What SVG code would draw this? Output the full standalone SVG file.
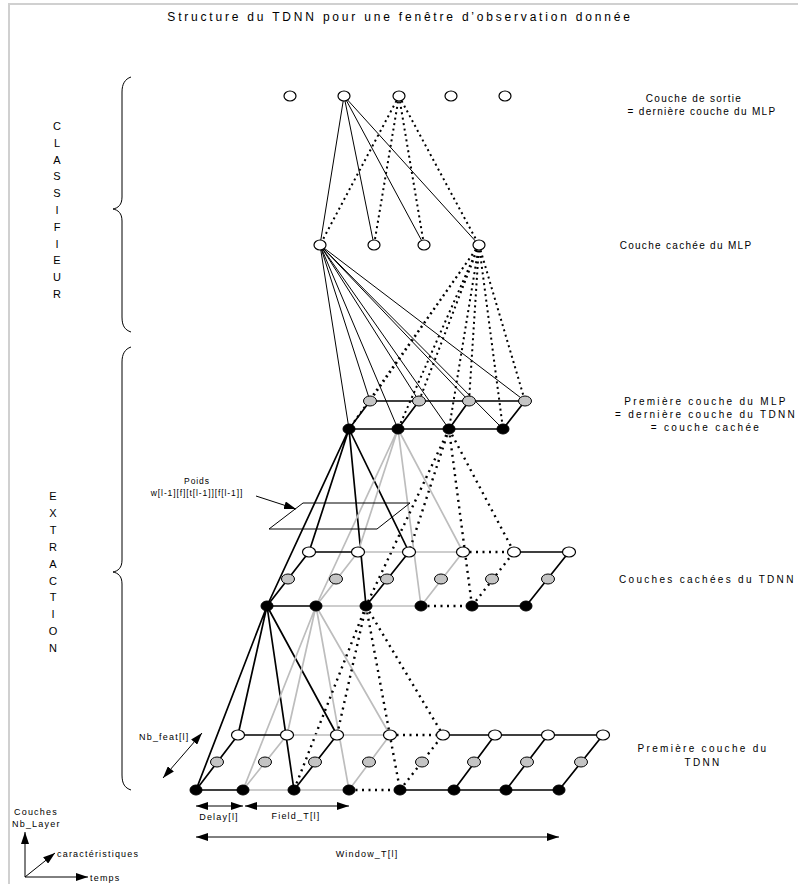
<svg xmlns="http://www.w3.org/2000/svg" width="798" height="884" viewBox="0 0 798 884">
<defs>
<style>
text{font-family:"Liberation Sans",Arial,sans-serif;fill:#000}
.t{font-size:12px;letter-spacing:2.8px}
.l{font-size:10px;letter-spacing:1.3px}
.l2{font-size:10px;letter-spacing:2.3px}
.s{font-size:9px;letter-spacing:1.2px}
.p{font-size:8.5px;letter-spacing:0.9px}
.v{font-size:11px;text-anchor:middle}
.nw{fill:#fff;stroke:#000;stroke-width:1.2}
.ng{fill:#c4c4c4;stroke:#000;stroke-width:1}
.nb{fill:#000;stroke:#000;stroke-width:1}
.eb{stroke:#000;stroke-width:1.7;fill:none}
.eg{stroke:#bdbdbd;stroke-width:1.7;fill:none}
.ed{stroke:#000;stroke-width:2.4;stroke-dasharray:2 4.5;fill:none}
.et{stroke:#000;stroke-width:1;fill:none}
.etd{stroke:#000;stroke-width:2;stroke-dasharray:2 3.5;fill:none}
.br{stroke:#000;stroke-width:1;fill:none}
.ar{stroke:#000;stroke-width:1;fill:none}
</style>
<marker id="ah" viewBox="0 0 12 8" refX="12" refY="4" markerWidth="12" markerHeight="8" markerUnits="userSpaceOnUse" orient="auto-start-reverse">
<path d="M0,0 L12,4 L0,8 Z" fill="#000"/>
</marker>
</defs>
<rect width="798" height="884" fill="#fff"/>
<path d="M9,884 V4 H798" stroke="#d0d0d0" stroke-width="2" fill="none"/>

<text class="t" x="400" y="21" text-anchor="middle">Structure du TDNN pour une fenêtre d’observation donnée</text>

<g id="braces">
<path class="br" d="M131,77 C125,79 122,84 122,92 L122,197 C122,205 118,208 113,209 C118,210 122,213 122,221 L122,317 C122,326 125,330 131,332"/>
<path class="br" d="M131,347 C125,349 122,354 122,362 L122,560 C122,568 118,571 113,572 C118,573 122,576 122,584 L122,775 C122,784 125,788 131,790"/>
</g>
<g id="label-classifieur">
<text class="v" x="57" y="130">C</text><text class="v" x="57" y="146.8">L</text><text class="v" x="57" y="163.6">A</text><text class="v" x="57" y="180.4">S</text><text class="v" x="57" y="197.2">S</text><text class="v" x="57" y="214">I</text><text class="v" x="57" y="230.8">F</text><text class="v" x="57" y="247.6">I</text><text class="v" x="57" y="264.4">E</text><text class="v" x="57" y="281.2">U</text><text class="v" x="57" y="298">R</text>
</g>
<g id="label-extraction">
<text class="v" x="53" y="500">E</text><text class="v" x="53" y="516.9">X</text><text class="v" x="53" y="533.8">T</text><text class="v" x="53" y="550.7">R</text><text class="v" x="53" y="567.6">A</text><text class="v" x="53" y="584.5">C</text><text class="v" x="53" y="601.4">T</text><text class="v" x="53" y="618.3">I</text><text class="v" x="53" y="635.2">O</text><text class="v" x="53" y="652">N</text>
</g>

<g id="connectors">
<path class="et" d="M344,96 L320,245 M344,96 L374,245 M344,96 L424,245 M344,96 L479,245"/>
<path class="etd" d="M399,96 L320,245 M399,96 L374,245 M399,96 L424,245 M399,96 L479,245"/>
<path class="et" d="M320,245 L349,429 M320,245 L370,401 M320,245 L398,429 M320,245 L419,401 M320,245 L449,429 M320,245 L469,401 M320,245 L503,429 M320,245 L525,401"/>
<path class="etd" d="M479,245 L349,429 M479,245 L370,401 M479,245 L398,429 M479,245 L419,401 M479,245 L449,429 M479,245 L469,401 M479,245 L503,429 M479,245 L525,401"/>
<path class="eb" d="M349,429 H503 M370,401 H525 M349,429 L370,401 M398,429 L419,401 M449,429 L469,401 M503,429 L525,401"/>
<path class="eb" d="M349,429 L267,606 M349,429 L309,552 M349,429 L366,606 M349,429 L409,552"/>
<path class="eg" d="M398,429 L316,606 M398,429 L358,552 M398,429 L421,606 M398,429 L463,552"/>
<path class="ed" d="M449,429 L366,606 M449,429 L409,552 M449,429 L472,606 M449,429 L514,552"/>
<path class="eb" d="M267,606 H316 M472,606 H526 M309,552 H358 M514,552 H569 M267,606 L309,552 M366,606 L409,552 M526,606 L569,552"/>
<path class="eg" d="M316,606 H421 M358,552 H463 M316,606 L358,552 M421,606 L463,552"/>
<path class="ed" d="M421,606 H472 M463,552 H514 M472,606 L514,552"/>
<path class="eb" d="M267,606 L196,790 M267,606 L238,735 M267,606 L294,790 M267,606 L337,735"/>
<path class="eg" d="M316,606 L243,790 M316,606 L287,735 M316,606 L349,790 M316,606 L390,735"/>
<path class="ed" d="M366,606 L294,790 M366,606 L337,735 M366,606 L400,790 M366,606 L443,735"/>
<path class="eb" d="M196,790 H243 M400,790 H559 M238,735 H287 M443,735 H603 M196,790 L238,735 M294,790 L337,735 M454,790 L495,735 M506,790 L548,735 M559,790 L603,735"/>
<path class="eg" d="M243,790 H349 M287,735 H390 M243,790 L287,735 M349,790 L390,735"/>
<path class="ed" d="M349,790 H400 M390,735 H443 M400,790 L443,735"/>
<path class="et" d="M269,529 L303,503 L410,503 L377,529 Z"/>
<path class="ar" d="M256,496 L296,509" marker-end="url(#ah)"/>
<path class="ar" d="M196,806 H243" marker-start="url(#ah)" marker-end="url(#ah)"/>
<path class="ar" d="M245,806 H349" marker-start="url(#ah)" marker-end="url(#ah)"/>
<path class="ar" d="M196,837 H559" marker-start="url(#ah)" marker-end="url(#ah)"/>
<path class="ar" d="M163,778 L202,733" marker-start="url(#ah)" marker-end="url(#ah)"/>
<path class="ar" d="M25,877 V832" marker-end="url(#ah)"/>
<path class="ar" d="M25,877 H88" marker-end="url(#ah)"/>
<path class="ar" d="M25,877 L55,853" marker-end="url(#ah)"/>
</g>

<g id="output-layer">
<ellipse id="o1" class="nw" cx="290" cy="96" rx="6" ry="5"/>
<ellipse id="o2" class="nw" cx="344" cy="96" rx="6" ry="5"/>
<ellipse id="o3" class="nw" cx="399" cy="96" rx="6" ry="5"/>
<ellipse id="o4" class="nw" cx="451" cy="96" rx="6" ry="5"/>
<ellipse id="o5" class="nw" cx="505" cy="96" rx="6" ry="5"/>
</g>
<g id="hidden-mlp">
<ellipse id="h1" class="nw" cx="320" cy="245" rx="6" ry="5"/>
<ellipse id="h2" class="nw" cx="374" cy="245" rx="6" ry="5"/>
<ellipse id="h3" class="nw" cx="424" cy="245" rx="6" ry="5"/>
<ellipse id="h4" class="nw" cx="479" cy="245" rx="6" ry="5"/>
</g>
<g id="first-mlp">
<ellipse id="m1g" class="ng" cx="370" cy="401" rx="6.5" ry="5"/>
<ellipse id="m2g" class="ng" cx="419" cy="401" rx="6.5" ry="5"/>
<ellipse id="m3g" class="ng" cx="469" cy="401" rx="6.5" ry="5"/>
<ellipse id="m4g" class="ng" cx="525" cy="401" rx="6.5" ry="5"/>
<ellipse id="m1b" class="nb" cx="349" cy="429" rx="6" ry="5"/>
<ellipse id="m2b" class="nb" cx="398" cy="429" rx="6" ry="5"/>
<ellipse id="m3b" class="nb" cx="449" cy="429" rx="6" ry="5"/>
<ellipse id="m4b" class="nb" cx="503" cy="429" rx="6" ry="5"/>
</g>
<g id="hidden-tdnn">
<ellipse class="nw" cx="309" cy="552" rx="6.5" ry="5"/>
<ellipse class="nw" cx="358" cy="552" rx="6.5" ry="5"/>
<ellipse class="nw" cx="409" cy="552" rx="6.5" ry="5"/>
<ellipse class="nw" cx="463" cy="552" rx="6.5" ry="5"/>
<ellipse class="nw" cx="514" cy="552" rx="6.5" ry="5"/>
<ellipse class="nw" cx="569" cy="552" rx="6.5" ry="5"/>
<ellipse class="ng" cx="288" cy="579" rx="6.5" ry="5"/>
<ellipse class="ng" cx="336" cy="579" rx="6.5" ry="5"/>
<ellipse class="ng" cx="387" cy="579" rx="6.5" ry="5"/>
<ellipse class="ng" cx="441" cy="579" rx="6.5" ry="5"/>
<ellipse class="ng" cx="492" cy="579" rx="6.5" ry="5"/>
<ellipse class="ng" cx="548" cy="579" rx="6.5" ry="5"/>
<ellipse class="nb" cx="267" cy="606" rx="6" ry="5"/>
<ellipse class="nb" cx="316" cy="606" rx="6" ry="5"/>
<ellipse class="nb" cx="366" cy="606" rx="6" ry="5"/>
<ellipse class="nb" cx="421" cy="606" rx="6" ry="5"/>
<ellipse class="nb" cx="472" cy="606" rx="6" ry="5"/>
<ellipse class="nb" cx="526" cy="606" rx="6" ry="5"/>
</g>
<g id="first-tdnn">
<ellipse class="nw" cx="238" cy="735" rx="6.5" ry="5"/>
<ellipse class="nw" cx="287" cy="735" rx="6.5" ry="5"/>
<ellipse class="nw" cx="337" cy="735" rx="6.5" ry="5"/>
<ellipse class="nw" cx="390" cy="735" rx="6.5" ry="5"/>
<ellipse class="nw" cx="443" cy="735" rx="6.5" ry="5"/>
<ellipse class="nw" cx="495" cy="735" rx="6.5" ry="5"/>
<ellipse class="nw" cx="548" cy="735" rx="6.5" ry="5"/>
<ellipse class="nw" cx="603" cy="735" rx="6.5" ry="5"/>
<ellipse class="ng" cx="217" cy="762" rx="6.5" ry="5"/>
<ellipse class="ng" cx="265" cy="762" rx="6.5" ry="5"/>
<ellipse class="ng" cx="315" cy="762" rx="6.5" ry="5"/>
<ellipse class="ng" cx="369" cy="762" rx="6.5" ry="5"/>
<ellipse class="ng" cx="422" cy="762" rx="6.5" ry="5"/>
<ellipse class="ng" cx="474" cy="762" rx="6.5" ry="5"/>
<ellipse class="ng" cx="527" cy="762" rx="6.5" ry="5"/>
<ellipse class="ng" cx="581" cy="762" rx="6.5" ry="5"/>
<ellipse class="nb" cx="196" cy="790" rx="6" ry="5"/>
<ellipse class="nb" cx="243" cy="790" rx="6" ry="5"/>
<ellipse class="nb" cx="294" cy="790" rx="6" ry="5"/>
<ellipse class="nb" cx="349" cy="790" rx="6" ry="5"/>
<ellipse class="nb" cx="400" cy="790" rx="6" ry="5"/>
<ellipse class="nb" cx="454" cy="790" rx="6" ry="5"/>
<ellipse class="nb" cx="506" cy="790" rx="6" ry="5"/>
<ellipse class="nb" cx="559" cy="790" rx="6" ry="5"/>
</g>

<g id="labels">
<text class="l" x="694" y="102" text-anchor="middle">Couche de sortie</text>
<text class="l" x="702" y="115" text-anchor="middle">= dernière couche du MLP</text>
<text class="l" x="686" y="249" text-anchor="middle">Couche cachée du MLP</text>
<text class="l2" x="706" y="405" text-anchor="middle">Première couche du MLP</text>
<text class="l2" x="706" y="418" text-anchor="middle">= dernière couche du TDNN</text>
<text class="l2" x="706" y="431" text-anchor="middle">= couche cachée</text>
<text class="l2" x="619" y="583">Couches cachées du TDNN</text>
<text class="l2" x="703" y="752" text-anchor="middle">Première couche du</text>
<text class="l2" x="703" y="766" text-anchor="middle">TDNN</text>
<text class="p" x="197" y="484" text-anchor="middle">Poids</text>
<text class="p" x="197" y="496" text-anchor="middle">w[l-1][f][t[l-1]][f[l-1]]</text>
<text class="s" x="139" y="740">Nb_feat[l]</text>
<text class="s" x="219" y="820" text-anchor="middle">Delay[l]</text>
<text class="s" x="296" y="819" text-anchor="middle">Field_T[l]</text>
<text class="s" x="367" y="857" text-anchor="middle">Window_T[l]</text>
<text class="s" x="14" y="815">Couches</text>
<text class="s" x="12" y="827">Nb_Layer</text>
<text class="s" x="57" y="857">caractéristiques</text>
<text class="s" x="90" y="881">temps</text>
</g>
</svg>
